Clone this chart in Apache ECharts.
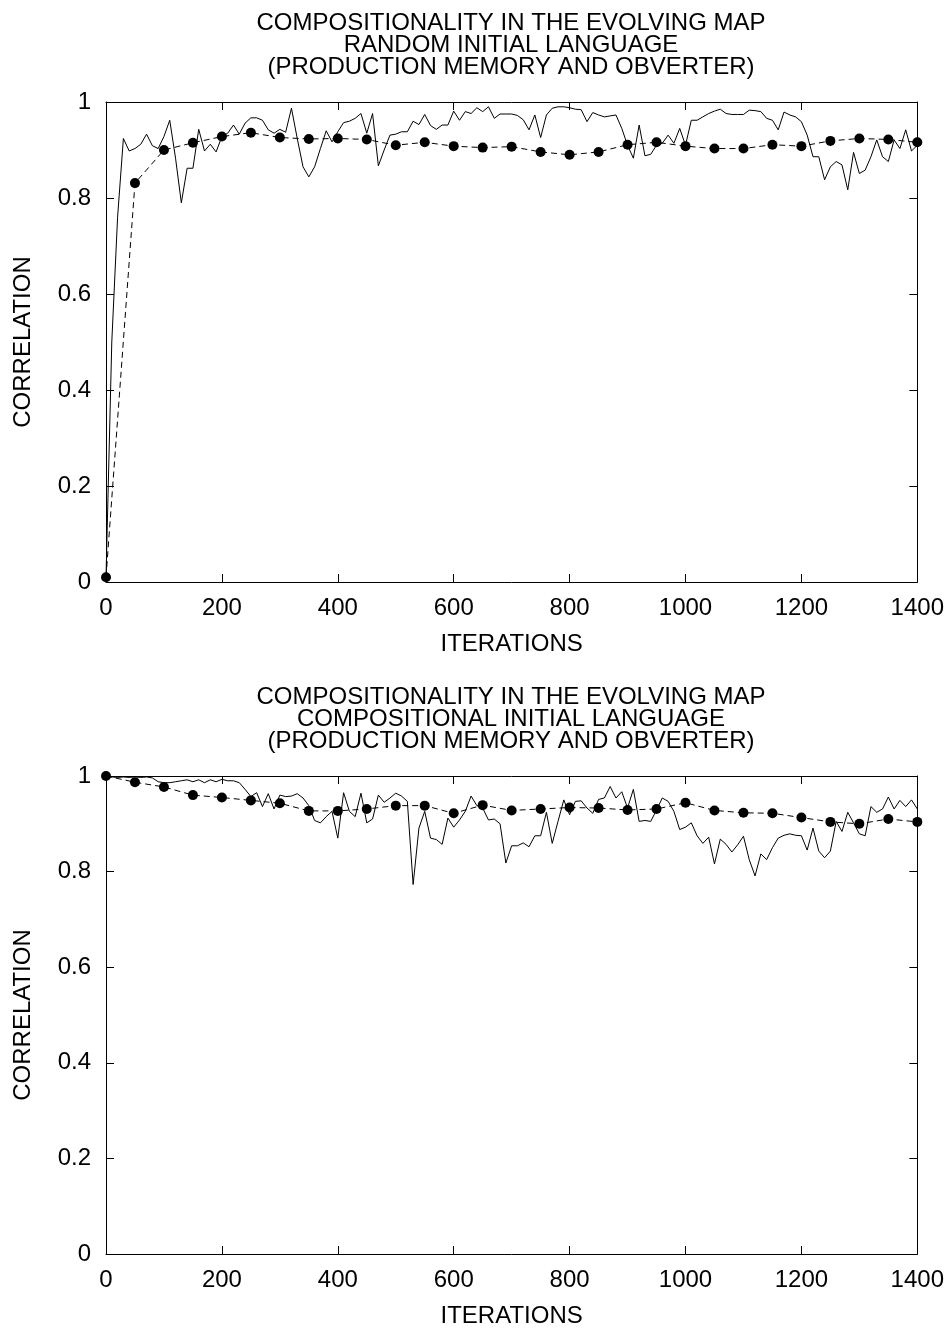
<!DOCTYPE html>
<html>
<head>
<meta charset="utf-8">
<script src="https://cdn.jsdelivr.net/npm/echarts@6/dist/echarts.min.js"></script>
<style>
  html, body { margin: 0; padding: 0; background: #fff; }
  #chart { width: 947px; height: 1329px; }
</style>
</head>
<body>
<div id="chart"></div>
<script>
// sample spacing of the runs (iterations)
const SOLID_STEP = 10;
const DOT_STEP = 50;

// top panel: random initial language
const topSolid = [
  0.01, 0.50, 0.76, 0.924, 0.898, 0.903, 0.912, 0.933, 0.909, 0.903,
  0.928, 0.962, 0.883, 0.790, 0.862, 0.862, 0.943, 0.898, 0.912, 0.896,
  0.928, 0.935, 0.952, 0.933, 0.956, 0.967, 0.967, 0.962, 0.942, 0.935,
  0.943, 0.937, 0.987, 0.924, 0.865, 0.844, 0.865, 0.903, 0.940, 0.917,
  0.938, 0.957, 0.960, 0.966, 0.976, 0.935, 0.976, 0.867, 0.900, 0.931,
  0.933, 0.938, 0.938, 0.960, 0.953, 0.974, 0.951, 0.943, 0.952, 0.952,
  0.981, 0.962, 0.980, 0.976, 0.988, 0.980, 0.990, 0.966, 0.975, 0.975,
  0.975, 0.972, 0.963, 0.942, 0.973, 0.926, 0.973, 0.987, 0.990, 0.990,
  0.988, 0.985, 0.984, 0.959, 0.978, 0.973, 0.969, 0.971, 0.973, 0.945,
  0.910, 0.883, 0.952, 0.888, 0.891, 0.910, 0.914, 0.931, 0.914, 0.945,
  0.910, 0.962, 0.962, 0.969, 0.976, 0.981, 0.985, 0.976, 0.974, 0.974,
  0.974, 0.983, 0.982, 0.980, 0.966, 0.962, 0.942, 0.979, 0.973, 0.969,
  0.959, 0.931, 0.886, 0.886, 0.838, 0.865, 0.876, 0.869, 0.817, 0.895,
  0.851, 0.858, 0.886, 0.921, 0.886, 0.876, 0.921, 0.903, 0.942, 0.898,
  0.910
];
const topDots = [
  0.01, 0.831, 0.900, 0.915, 0.928, 0.936, 0.926, 0.923, 0.924, 0.922,
  0.910, 0.916, 0.908, 0.905, 0.907, 0.896, 0.890, 0.896, 0.911, 0.916,
  0.908, 0.903, 0.903, 0.911, 0.908, 0.919, 0.924, 0.922, 0.916
];

// bottom panel: compositional initial language
const bottomSolid = [
  0.999, 0.998, 0.997, 0.998, 0.997, 0.998, 0.997, 0.998, 0.996, 0.988,
  0.986, 0.986, 0.988, 0.990, 0.992, 0.988, 0.992, 0.986, 0.992, 0.988,
  0.993, 0.990, 0.990, 0.986, 0.972, 0.957, 0.965, 0.936, 0.963, 0.931,
  0.960, 0.957, 0.958, 0.963, 0.954, 0.938, 0.907, 0.902, 0.915, 0.926,
  0.870, 0.965, 0.926, 0.915, 0.964, 0.902, 0.910, 0.960, 0.945, 0.954,
  0.964, 0.958, 0.947, 0.773, 0.891, 0.926, 0.870, 0.867, 0.857, 0.912,
  0.893, 0.908, 0.926, 0.958, 0.938, 0.933, 0.908, 0.910, 0.900, 0.818,
  0.854, 0.854, 0.860, 0.852, 0.875, 0.875, 0.924, 0.859, 0.905, 0.950,
  0.919, 0.947, 0.948, 0.933, 0.922, 0.951, 0.954, 0.978, 0.954, 0.967,
  0.933, 0.972, 0.905, 0.907, 0.905, 0.929, 0.954, 0.947, 0.926, 0.888,
  0.893, 0.902, 0.875, 0.859, 0.872, 0.816, 0.868, 0.857, 0.841, 0.856,
  0.874, 0.825, 0.791, 0.837, 0.825, 0.850, 0.870, 0.876, 0.879, 0.876,
  0.875, 0.845, 0.891, 0.843, 0.829, 0.843, 0.905, 0.884, 0.924, 0.902,
  0.879, 0.875, 0.936, 0.924, 0.931, 0.956, 0.931, 0.949, 0.936, 0.950,
  0.931
];
const bottomDots = [
  1.0, 0.987, 0.977, 0.960, 0.955, 0.949, 0.943, 0.927, 0.927, 0.931,
  0.938, 0.938, 0.922, 0.939, 0.928, 0.931, 0.934, 0.933, 0.929, 0.931,
  0.944, 0.928, 0.923, 0.922, 0.913, 0.904, 0.900, 0.910, 0.904
];

const titles = [
  'COMPOSITIONALITY IN THE EVOLVING MAP\nRANDOM INITIAL LANGUAGE\n(PRODUCTION MEMORY AND OBVERTER)',
  'COMPOSITIONALITY IN THE EVOLVING MAP\nCOMPOSITIONAL INITIAL LANGUAGE\n(PRODUCTION MEMORY AND OBVERTER)'
];
const xName = 'ITERATIONS';
const yName = 'CORRELATION';

const FONT = 'Liberation Sans, Arial, Helvetica, sans-serif';
const FS = 24;

function pairs(values, step) {
  return values.map((v, i) => [i * step, v]);
}

const chart = echarts.init(document.getElementById('chart'));

const grids = [
  { left: 106, right: 29, top: 102, height: 480 },
  { left: 106, right: 29, top: 776, height: 481 }
];

const xAxes = [];
const yAxes = [];
grids.forEach((g, gi) => {
  const line = { show: true, onZero: false, lineStyle: { color: '#000', width: 1 } };
  const tick = { show: true, inside: true, length: 8, lineStyle: { color: '#000', width: 1 } };
  xAxes.push({
    type: 'value', gridIndex: gi, position: 'bottom', min: 0, max: 1400, interval: 200,
    axisLine: line, axisTick: tick, splitLine: { show: false },
    axisLabel: { color: '#000', fontSize: FS, fontFamily: FONT, margin: 14, formatter: v => String(v) },
    name: xName, nameLocation: 'middle', nameGap: 50,
    nameTextStyle: { color: '#000', fontSize: FS, fontFamily: FONT }
  });
  xAxes.push({
    type: 'value', gridIndex: gi, position: 'top', min: 0, max: 1400, interval: 200,
    axisLine: line, axisTick: tick, splitLine: { show: false }, axisLabel: { show: false }
  });
  yAxes.push({
    type: 'value', gridIndex: gi, position: 'left', min: 0, max: 1, interval: 0.2,
    axisLine: line, axisTick: tick, splitLine: { show: false },
    axisLabel: { color: '#000', fontSize: FS, fontFamily: FONT, margin: 15, formatter: v => String(+v.toFixed(1)) },
    name: yName, nameLocation: 'middle', nameGap: 71,
    nameTextStyle: { color: '#000', fontSize: FS, fontFamily: FONT }
  });
  yAxes.push({
    type: 'value', gridIndex: gi, position: 'right', min: 0, max: 1, interval: 0.2,
    axisLine: line, axisTick: tick, splitLine: { show: false }, axisLabel: { show: false }
  });
});

function solidSeries(values, gi) {
  return {
    type: 'line', xAxisIndex: gi * 2, yAxisIndex: gi * 2,
    data: pairs(values, SOLID_STEP), showSymbol: false, symbol: 'none',
    lineStyle: { color: '#000', width: 1 }, clip: false, z: 3, animation: false
  };
}
function dotSeries(values, gi) {
  return {
    type: 'line', xAxisIndex: gi * 2, yAxisIndex: gi * 2,
    data: pairs(values, DOT_STEP), symbol: 'circle', symbolSize: 10,
    itemStyle: { color: '#000' },
    lineStyle: { color: '#000', width: 1, type: [6, 4] }, clip: false, z: 4, animation: false
  };
}

chart.setOption({
  backgroundColor: '#fff',
  animation: false,
  title: titles.map((t, i) => ({
    text: t, left: 506, textAlign: 'center', top: 7 + i * 674,
    textStyle: { color: '#000', fontSize: FS, fontWeight: 'normal', fontFamily: FONT, lineHeight: 22 }
  })),
  grid: grids,
  xAxis: xAxes,
  yAxis: yAxes,
  series: [
    solidSeries(topSolid, 0),
    dotSeries(topDots, 0),
    solidSeries(bottomSolid, 1),
    dotSeries(bottomDots, 1)
  ]
});
</script>
</body>
</html>
